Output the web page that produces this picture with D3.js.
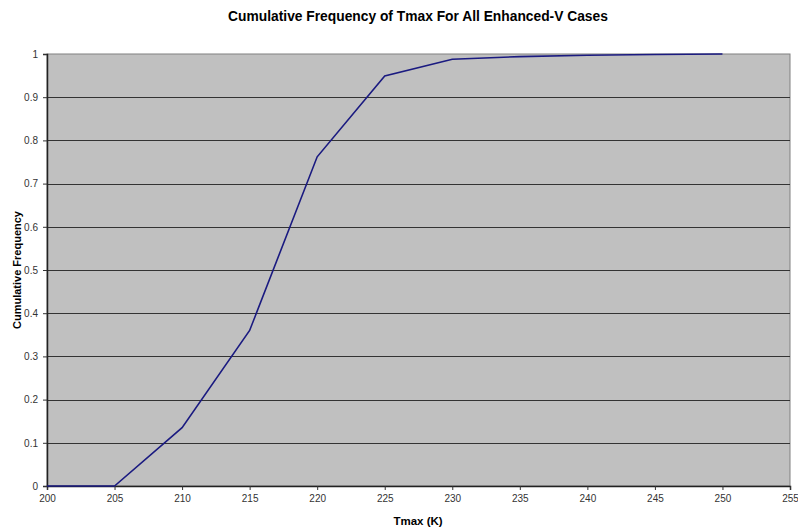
<!DOCTYPE html>
<html>
<head>
<meta charset="utf-8">
<script src="https://cdn.jsdelivr.net/npm/d3@7"></script>
<style>
  body { margin: 0; background: #fff; }
  text { font-family: Arial, "Liberation Sans", sans-serif; }
</style>
</head>
<body>
<div id="chartDiv"></div>
<script>
// Cumulative frequency of Tmax
var tmaxValues = [200, 205, 210, 215, 220, 225, 230, 235, 240, 245, 250];
var cumFreq = [0, 0, 0.135, 0.36, 0.762, 0.949, 0.988, 0.994, 0.997, 0.999, 1.0];
var xTicks = [200, 205, 210, 215, 220, 225, 230, 235, 240, 245, 250, 255];
var yTicks = [0, 0.1, 0.2, 0.3, 0.4, 0.5, 0.6, 0.7, 0.8, 0.9, 1];

var svgWidth = 798;
var svgHeight = 532;
var margin = { left: 47, right: 8, top: 54, bottom: 46 };

var svg = d3.select('#chartDiv')
            .append('svg')
            .attr('width', svgWidth)
            .attr('height', svgHeight);

var x = d3.scaleLinear().domain([200, 255]).range([margin.left, svgWidth - margin.right]);
var y = d3.scaleLinear().domain([0, 1]).range([svgHeight - margin.bottom, margin.top]);

// plot area background with grey border
svg.append('rect')
   .attr('x', x(200))
   .attr('y', y(1))
   .attr('width', x(255) - x(200))
   .attr('height', y(0) - y(1))
   .attr('fill', '#c0c0c0')
   .attr('stroke', '#808080')
   .attr('stroke-width', 1);

// horizontal gridlines
svg.selectAll('.grid')
   .data(yTicks.filter(function(d) { return d > 0 && d < 1; }))
   .enter()
   .append('line')
   .attr('class', 'grid')
   .attr('x1', x(200))
   .attr('x2', x(255))
   .attr('y1', function(d) { return Math.round(y(d)) + 0.5; })
   .attr('y2', function(d) { return Math.round(y(d)) + 0.5; })
   .attr('stroke', '#333')
   .attr('stroke-width', 1);

// axes
var xAxis = d3.axisBottom(x).tickValues(xTicks).tickSize(4).tickPadding(5).tickFormat(d3.format('d'));
var yAxis = d3.axisLeft(y).tickValues(yTicks).tickSize(4).tickPadding(5).tickFormat(function(d) { return d3.format('~g')(d); });

var gx = svg.append('g')
            .attr('transform', 'translate(0,' + y(0) + ')')
            .call(xAxis);
var gy = svg.append('g')
            .attr('transform', 'translate(' + x(200) + ',0)')
            .call(yAxis);

[gx, gy].forEach(function(g) {
    g.select('.domain').attr('stroke', '#222').attr('stroke-width', 1.5);
    g.selectAll('.tick line').attr('stroke', '#333');
    g.selectAll('.tick text')
     .attr('fill', '#333')
     .style('font-size', '10px')
     .style('font-family', 'Arial, "Liberation Sans", sans-serif');
});

// the data line
var line = d3.line()
             .x(function(d, i) { return x(tmaxValues[i]); })
             .y(function(d) { return y(d); });

svg.append('path')
   .datum(cumFreq)
   .attr('d', line)
   .attr('fill', 'none')
   .attr('stroke', '#1a1a80')
   .attr('stroke-width', 1.6);

// titles
svg.append('text')
   .attr('x', 418)
   .attr('y', 21)
   .attr('text-anchor', 'middle')
   .style('font-size', '13.8px')
   .style('font-weight', 'bold')
   .text('Cumulative Frequency of Tmax For All Enhanced-V Cases');

svg.append('text')
   .attr('x', 418)
   .attr('y', 525)
   .attr('text-anchor', 'middle')
   .style('font-size', '11.5px')
   .style('font-weight', 'bold')
   .text('Tmax (K)');

svg.append('text')
   .attr('transform', 'translate(21,270) rotate(-90)')
   .attr('text-anchor', 'middle')
   .style('font-size', '11px')
   .style('font-weight', 'bold')
   .text('Cumulative Frequency');
</script>
</body>
</html>
